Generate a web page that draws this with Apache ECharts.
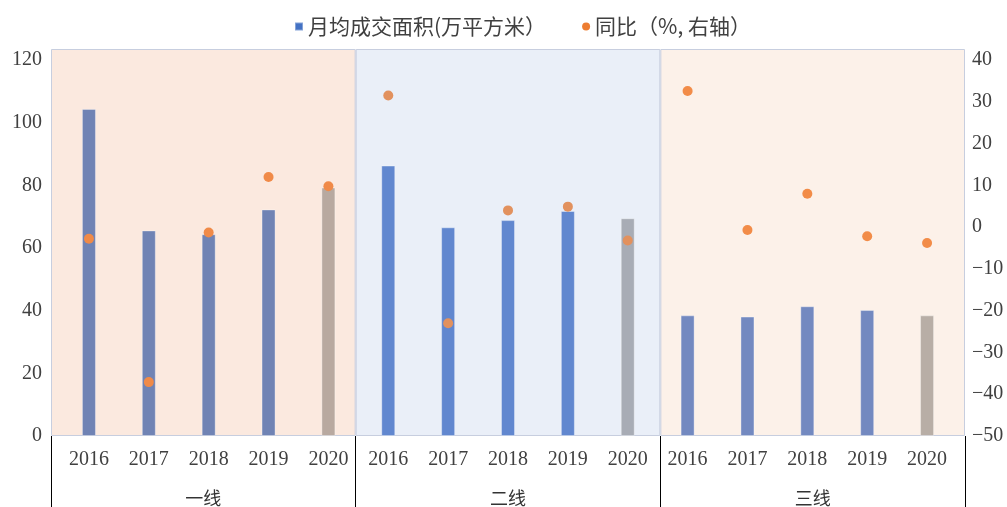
<!DOCTYPE html>
<html lang="zh">
<head>
    <meta charset="UTF-8">
    <title>月均成交面积</title>
    <script src="https://cdn.jsdelivr.net/npm/echarts@6/dist/echarts.min.js"></script>
    <style>
        html, body { margin: 0; padding: 0; background: #fff; }
    </style>
</head>
<body>
<div id="main" style="width: 1007px;height:507px;"></div>
<script type="text/javascript">
    // 数据
    var years = ['2016', '2017', '2018', '2019', '2020'];
    var groups = ['一线', '二线', '三线'];
    var area1 = [104.4, 65.6, 64.4, 72.3, 79.3];
    var area2 = [86.3, 66.6, 68.9, 71.8, 69.5];
    var area3 = [38.5, 38.1, 41.4, 40.2, 38.5];
    var yoy1 = [-2.8, -37.1, -1.3, 12.0, 9.8];
    var yoy2 = [31.5, -23.0, 4.0, 4.9, -3.2];
    var yoy3 = [32.6, -0.7, 8.0, -2.2, -3.8];

    var barColors = [
        ['#7083b4', '#b8a9a0'],
        ['#6187cf', '#a8acb5'],
        ['#7389c0', '#b8aea6']
    ];
    var bgColors = ['#fbe9df', '#eaeff8', '#fcf1e9'];
    var dotColors = ['#f08a48', '#e2915e', '#f28c48'];

    var cats = [];
    var barData = [];
    var dotData = [];
    [area1, area2, area3].forEach(function (arr, g) {
        arr.forEach(function (v, i) {
            cats.push(years[i]);
            barData.push({value: v, itemStyle: {color: barColors[g][i === 4 ? 1 : 0]}});
        });
    });
    [yoy1, yoy2, yoy3].forEach(function (arr, g) {
        arr.forEach(function (v) {
            dotData.push({value: v, itemStyle: {color: dotColors[g]}});
        });
    });

    var myChart = echarts.init(document.getElementById('main'));
    var txt = '#404040';
    myChart.setOption({
        animation: false,
        legend: {
            data: [
                {name: '月均成交面积(万平方米）', icon: 'rect'},
                {name: '同比（%, 右轴）', icon: 'circle'}
            ],
            top: 11,
            left: 289,
            itemWidth: 8,
            itemHeight: 8,
            itemGap: 36,
            textStyle: {fontSize: 21, color: txt, fontFamily: 'Noto Sans CJK SC'}
        },
        grid: [
            {left: 59, right: 50, top: 60, bottom: 71},
            {left: 51, right: 42, top: 49, bottom: 71}
        ],
        xAxis: [
            {
                type: 'category',
                gridIndex: 0,
                data: cats,
                axisLine: {show: false},
                axisTick: {show: false},
                axisLabel: {
                    interval: 0, margin: 14, fontSize: 20, color: txt,
                    fontFamily: 'Liberation Serif'
                }
            },
            {
                type: 'category',
                gridIndex: 1,
                data: groups,
                axisLine: {show: false},
                axisTick: {show: true, length: 72, lineStyle: {color: '#000', width: 1}},
                axisLabel: {
                    margin: 53, fontSize: 18, color: '#333',
                    fontFamily: 'Noto Sans CJK SC'
                }
            }
        ],
        yAxis: [
            {
                type: 'value',
                gridIndex: 0,
                min: 0, max: 120, interval: 20,
                splitLine: {show: false},
                axisLine: {show: false},
                axisLabel: {margin: 17, fontSize: 20, color: txt, fontFamily: 'Liberation Serif',
                    padding: [7, 0, 0, 0]}
            },
            {
                type: 'value',
                gridIndex: 0,
                min: -50, max: 40, interval: 10,
                alignTicks: false,
                splitLine: {show: false},
                axisLine: {show: false},
                axisLabel: {
                    margin: 15, fontSize: 20, color: txt, fontFamily: 'Liberation Serif',
                    padding: [7, 0, 0, 0],
                    formatter: function (v) { return String(v).replace('-', '\u2212'); }
                }
            },
            {
                type: 'value',
                gridIndex: 1,
                min: 0, max: 1,
                show: false
            }
        ],
        series: [
            {
                name: 'bg',
                type: 'bar',
                xAxisIndex: 1,
                yAxisIndex: 2,
                barWidth: '100%',
                silent: true,
                z: 0,
                data: groups.map(function (g, i) {
                    return {value: 1, itemStyle: {color: bgColors[i]}};
                }),
                itemStyle: {borderColor: '#c7cedf', borderWidth: 1}
            },
            {
                name: '月均成交面积(万平方米）',
                type: 'bar',
                xAxisIndex: 0,
                yAxisIndex: 0,
                barWidth: 14,
                z: 2,
                itemStyle: {color: '#4472c4', borderColor: 'rgba(255,255,255,0.35)', borderWidth: 1},
                data: barData
            },
            {
                name: '同比（%, 右轴）',
                type: 'scatter',
                xAxisIndex: 0,
                yAxisIndex: 1,
                symbolSize: 10,
                z: 3,
                itemStyle: {color: '#ed7d31', opacity: 1},
                data: dotData
            }
        ]
    });
</script>
</body>
</html>
